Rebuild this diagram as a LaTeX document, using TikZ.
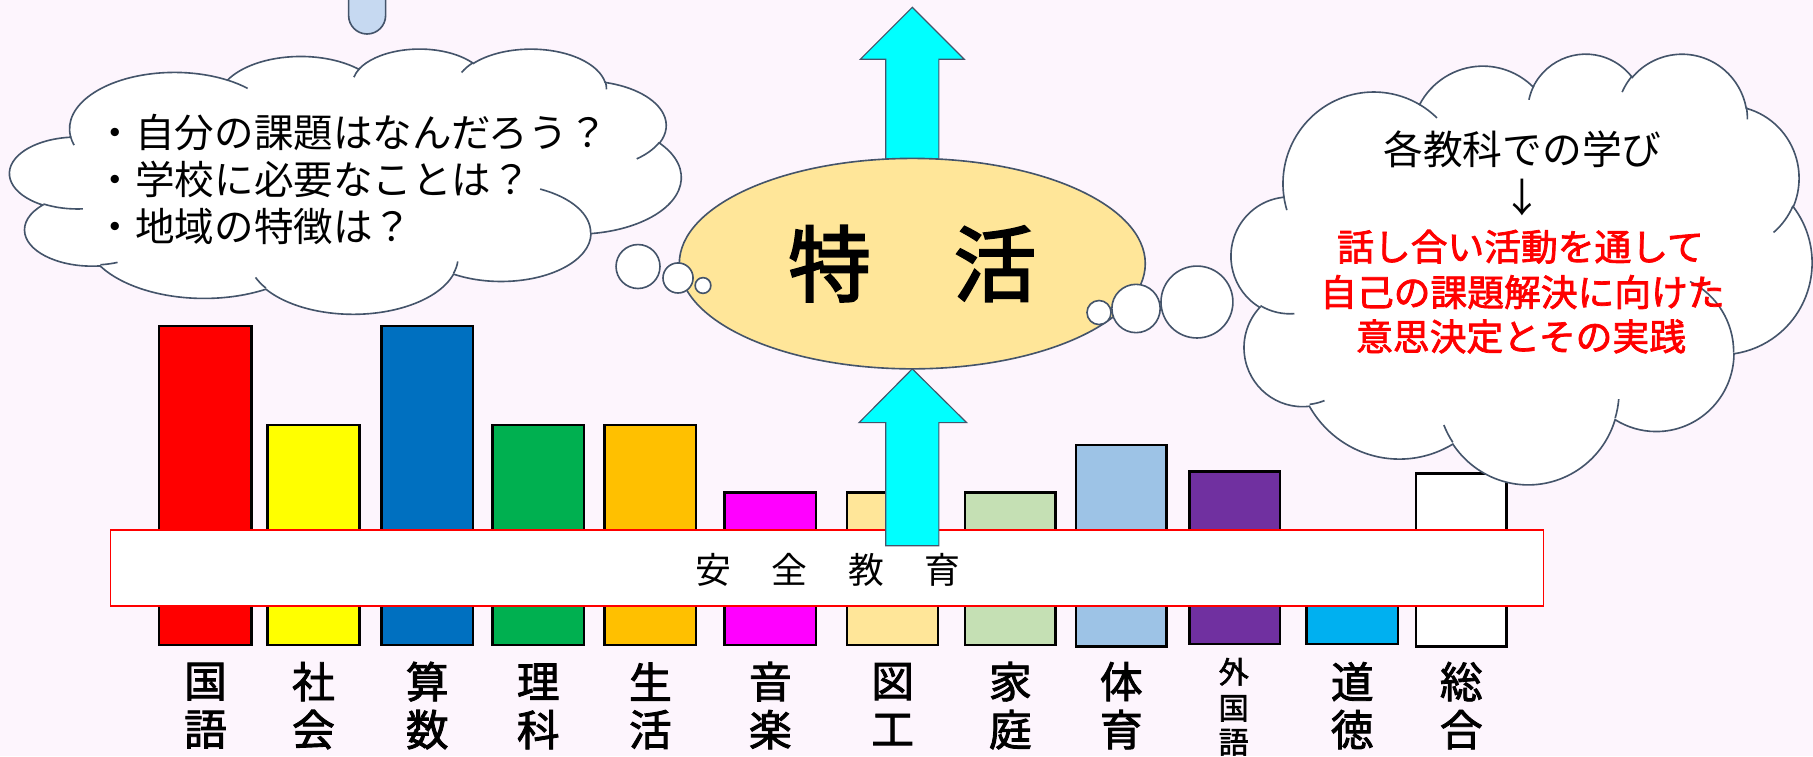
\documentclass[tikz,border=0pt]{standalone}
\usepackage{fontspec}
\newfontfamily\jp{Noto Sans CJK JP}
\newfontface\jpb[FakeBold=2]{Noto Sans CJK JP}
\newfontface\jpbb[FakeBold=2.6]{Noto Sans CJK JP}
\usetikzlibrary{shapes.geometric}
\definecolor{bgc}{RGB}{253,245,253}
\definecolor{slate}{RGB}{68,84,106}
\definecolor{cyanarrow}{RGB}{0,255,255}
\definecolor{ellfill}{RGB}{255,230,153}
\definecolor{cRed}{RGB}{255,0,0}
\definecolor{cYellow}{RGB}{255,255,0}
\definecolor{cBlue}{RGB}{0,112,192}
\definecolor{cGreen}{RGB}{0,176,80}
\definecolor{cOrange}{RGB}{255,192,0}
\definecolor{cMagenta}{RGB}{255,0,255}
\definecolor{cLtGreen}{RGB}{197,224,180}
\definecolor{cLtBlue}{RGB}{157,195,230}
\definecolor{cPurple}{RGB}{112,48,160}
\definecolor{cSky}{RGB}{0,176,240}
\definecolor{cPale}{RGB}{198,217,241}
\tikzset{
  cloudline/.style={draw=slate, line width=0.7pt},
  puff/.style={draw=slate, fill=white, line width=0.7pt},
  barbox/.style={draw=black, line width=1.1pt},
  bigarrow/.style={draw=slate, fill=cyanarrow, line width=0.5pt},
  qtext/.style={anchor=west, inner sep=0pt, font=\jp\fontsize{17.1}{20}\selectfont},
  redtext/.style={inner sep=0pt, text=cRed, font=\jpb\fontsize{15.9}{19}\selectfont},
  labtext/.style={inner sep=0pt, font=\jpb\fontsize{18.5}{20}\selectfont},
  smalllab/.style={inner sep=0pt, font=\jpb\fontsize{13}{15}\selectfont},
}
\newcommand\carc[4]{arc[x radius=#1, y radius=#2, start angle={atan2((#1)*sin(#3),(#2)*cos(#3))}, delta angle={mod(atan2((#1)*sin((#3)+(#4)),(#2)*cos((#3)+(#4)))-atan2((#1)*sin(#3),(#2)*cos(#3))-(#4)+900,360)-180+(#4)}]}
\newcommand\cloudshape{%
 \filldraw[cloudline, fill=white] (39.00,143.70)
  \carc{67.53}{91.90}{-190.48748}{123.78053}
  \carc{53.33}{72.67}{-144.10238}{89.94523}
  \carc{43.65}{59.45}{-145.80792}{99.72302}
  \carc{48.57}{65.95}{-130.98607}{117.24173}
  \carc{53.33}{72.73}{-78.70888}{109.02692}
  \carc{67.75}{92.20}{-46.26725}{130.26900}
  \carc{57.85}{78.67}{0.62502}{114.03333}
  \carc{67.52}{92.15}{22.45160}{115.17255}
  \carc{77.20}{105.43}{66.24263}{75.71102}
  \carc{43.60}{59.18}{-274.94208}{146.73557}
  \carc{43.45}{59.45}{-246.82850}{152.51885}
  -- cycle;
 \draw[cloudline] (46.93,261.77) \carc{43.45}{59.45}{86.74200}{26.42950}
  (69.28,348.99) \carc{43.60}{59.18}{73.61047}{11.44747}
  (164.78,390.90) \carc{67.52}{92.15}{137.62415}{14.08110}
  (288.27,347.51) \carc{67.52}{92.15}{6.45327}{15.99835}
  (341.29,229.54) \carc{57.85}{78.67}{-70.29235}{70.91737}
  (417.98,153.54) \carc{53.33}{72.73}{30.31803}{27.75150}
  (383.24,54.26) \carc{48.57}{65.95}{-13.74433}{14.85890}
  (290.78,39.52) \carc{48.57}{65.95}{-149.18145}{18.19537}
  (221.41,47.20) \carc{43.65}{59.45}{-163.49427}{17.68635}
  (140.00,51.92) \carc{67.53}{91.90}{-66.70695}{12.31935}
  (41.27,157.89) \carc{67.53}{91.90}{157.65435}{11.85817};
}
\begin{document}
\begin{tikzpicture}[x=0.5pt, y=-0.5pt]
\useasboundingbox (0,0) rectangle (1568,654);
\fill[bgc] (0,0) rectangle (1568,654);
% small shape at top
\filldraw[fill=cPale, draw=slate, line width=0.7pt] (301.5,-5) -- (301.5,13.4) arc[start angle=180, end angle=0, radius=16] -- (333.5,-5) -- cycle;
% bars
\draw[barbox, fill=cRed]     (137.7,282)   rectangle (217.7,558);
\draw[barbox, fill=cYellow]  (231.5,367.6) rectangle (310.7,558);
\draw[barbox, fill=cBlue]    (330,282)     rectangle (409,558);
\draw[barbox, fill=cGreen]   (426,367.6)   rectangle (505,558);
\draw[barbox, fill=cOrange]  (523,367.6)   rectangle (602,558);
\draw[barbox, fill=cMagenta] (626.7,426)   rectangle (705.6,558);
\draw[barbox, fill=ellfill]  (732.6,426)   rectangle (811.4,558);
\draw[barbox, fill=cLtGreen] (834.6,426)   rectangle (913,558);
\draw[barbox, fill=cLtBlue]  (930.4,385)   rectangle (1009,559.3);
\draw[barbox, fill=cPurple]  (1028.7,408)  rectangle (1107,557);
\draw[barbox, fill=cSky]     (1130,480)    rectangle (1209,557);
\draw[barbox, fill=white]    (1224.6,409.4) rectangle (1303,559.3);
% band
\node[draw=cRed, fill=white, line width=0.6pt, minimum width=619.6pt, minimum height=32.8pt, inner sep=0pt] (band) at (715.35,491.2) {};
\node[inner sep=0pt, font=\jp\fontsize{15.5}{18}\selectfont] (bandtext) at (716,493) {安\kern17.5pt 全\kern17.5pt 教\kern17.5pt 育};
% arrows
\filldraw[bigarrow] (766,472) -- (766,365.5) -- (743,365.5) -- (789,319) -- (836,365.5) -- (812,365.5) -- (812,472) -- cycle;
\filldraw[bigarrow] (766,175) -- (766,51.3) -- (744,51.3) -- (789,6.3) -- (834,51.3) -- (812,51.3) -- (812,175) -- cycle;
% ellipse
\node[ellipse, draw=slate, fill=ellfill, line width=0.7pt, minimum width=201.5pt, minimum height=91pt, inner sep=0pt, font=\jpbb\fontsize{35.75}{40}\selectfont] (tokkatsu) at (789,228) {特\hspace{1em}活};
% clouds
\begin{scope}[shift={(8.6,41.7)}, x=0.67176pt, y=-0.26539pt]
\cloudshape
\end{scope}
\begin{scope}[shift={(1065,45.6)}, x=0.58102pt, y=-0.43102pt]
\cloudshape
\end{scope}
% puffs
\filldraw[puff] (551.8,230.5) circle[radius=19];
\filldraw[puff] (586.4,240.4) circle[radius=13];
\filldraw[puff] (608,246.9) circle[radius=6.8];
\filldraw[puff] (950.5,270.3) circle[radius=10.4];
\filldraw[puff] (982.5,266.8) circle[radius=20.9];
\filldraw[puff] (1035.2,261.2) circle[radius=31.1];
% left cloud text
\node[qtext] (q1) at (82.5,114.5) {・自分の課題はなんだろう？};
\node[qtext] (q2) at (82.5,155.5) {・学校に必要なことは？};
\node[qtext] (q3) at (82.5,196) {・地域の特徴は？};
% right cloud text
\node[inner sep=0pt, font=\jp\fontsize{17.2}{20}\selectfont] (r0) at (1316.7,129.5) {各教科での学び};
\node[inner sep=0pt, font=\jp\fontsize{17.2}{20}\selectfont] (rarrow) at (1317,171) {↓};
\node[redtext] (r1) at (1315,213.4) {話し合い活動を通して};
\node[redtext] (r2) at (1316.7,252.6) {自己の課題解決に向けた};
\node[redtext] (r3) at (1315.5,291) {意思決定とその実践};
% labels
\node[labtext] (l1a) at (177.7,589.5) {国}; \node[labtext] (l1b) at (177.7,631) {語};
\node[labtext] (l2a) at (271.1,589.5) {社}; \node[labtext] (l2b) at (271.1,631) {会};
\node[labtext] (l3a) at (369.5,589.5) {算}; \node[labtext] (l3b) at (369.5,631) {数};
\node[labtext] (l4a) at (465.5,589.5) {理}; \node[labtext] (l4b) at (465.5,631) {科};
\node[labtext] (l5a) at (562.5,589.5) {生}; \node[labtext] (l5b) at (562.5,631) {活};
\node[labtext] (l6a) at (666.2,589.5) {音}; \node[labtext] (l6b) at (666.2,631) {楽};
\node[labtext] (l7a) at (772,589.5) {図}; \node[labtext] (l7b) at (772,631) {工};
\node[labtext] (l8a) at (873.8,589.5) {家}; \node[labtext] (l8b) at (873.8,631) {庭};
\node[labtext] (l9a) at (969.7,589.5) {体}; \node[labtext] (l9b) at (969.7,631) {育};
\node[smalllab] (l10a) at (1067,581) {外}; \node[smalllab] (l10b) at (1067,612.6) {国}; \node[smalllab] (l10c) at (1067,642) {語};
\node[labtext] (l11a) at (1169.5,589.5) {道}; \node[labtext] (l11b) at (1169.5,631) {徳};
\node[labtext] (l12a) at (1263.8,589.5) {総}; \node[labtext] (l12b) at (1263.8,631) {合};
\end{tikzpicture}
\end{document}
